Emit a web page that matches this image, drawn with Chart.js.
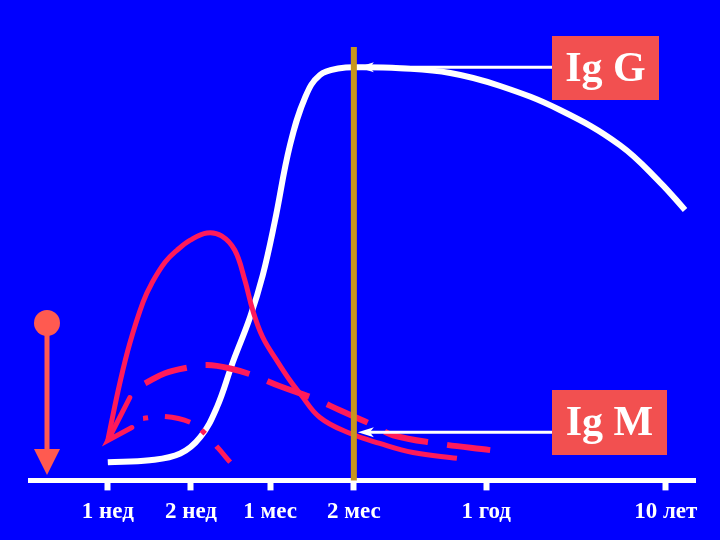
<!DOCTYPE html>
<html>
<head>
<meta charset="utf-8">
<script src="https://cdn.jsdelivr.net/npm/chart.js@4/dist/chart.umd.min.js"></script>
<style>
html,body{margin:0;padding:0;background:#0000FF;}
canvas{display:block;}
</style>
</head>
<body>
<canvas id="c" width="720" height="540"></canvas>
<script>
// Time axis (schematic, arbitrary units 0..100)
const tickLabels = ["1 нед", "2 нед", "1 мес", "2 мес", "1 год", "10 лет"];
const tickPos = [11.7, 24.2, 36.1, 48.7, 68.6, 95.6];

// IgG (white curve)
const iggX = [11.7,18.0,22.6,25.6,28.1,30.5,33.1,35.0,36.8,39.1,41.4,43.6,46.6,49.6,55.6,63.2,70.7,79.7,88.7,94.7,98.5];
const iggY = [3.8,4.2,5.6,9.0,15.2,24.6,34.0,42.7,53.8,69.8,79.8,84.4,85.8,86.0,85.8,84.8,82.1,77.1,69.8,62.1,56.3];

// IgM (solid red curve)
const igmX = [11.7,12.0,13.5,15.0,17.0,18.3,20.3,22.1,24.1,26.6,28.8,30.8,32.3,33.5,35.0,37.1,39.1,40.6,43.6,48.1,52.6,57.6,64.2];
const igmY = [8.3,10.4,20.2,28.5,37.1,41.0,45.4,47.9,50.0,51.5,50.9,47.9,41.7,35.4,29.8,25.0,20.8,18.1,13.1,9.8,7.7,5.8,4.6];

// Dashed red curve
const dashX = [17.3,20.3,23.8,26.6,30.1,33.5,37.6,42.6,46.6,51.6,54.6,61.2,69.2];
const dashY = [20.2,22.3,23.5,24.0,23.3,21.9,19.6,17.1,14.6,11.5,9.4,7.7,6.3];

// Dash-dot red curve
const ddX = [17.0,20.3,24.1,26.3,28.3,30.1];
const ddY = [12.9,13.3,12.1,9.8,6.7,3.8];

// Vertical marker at "2 мес"
const markerX = 48.7;
const markerTop = 90.2;

// Labels of the two curves and the level their arrows point at
const labelTexts = ["Ig G", "Ig M"];
const labelLevels = [86.0, 10.0];

const pts = (xs, ys) => xs.map((x, i) => ({x: x, y: ys[i]}));
const RED = "#FF1A5A";

const bgPlugin = {
  id: "bg",
  beforeDraw(chart) {
    const ctx = chart.ctx;
    ctx.save();
    ctx.fillStyle = "#0000FF";
    ctx.fillRect(0, 0, chart.width, chart.height);
    ctx.restore();
  }
};

const annoPlugin = {
  id: "anno",
  afterDraw(chart) {
    const ctx = chart.ctx;
    const xs = chart.scales.x, ys = chart.scales.y;
    ctx.save();
    // arrowhead at start of IgM curve
    const tx = xs.getPixelForValue(igmX[0]), ty = ys.getPixelForValue(igmY[0]);
    ctx.strokeStyle = RED; ctx.lineWidth = 5; ctx.lineCap = "round";
    ctx.beginPath();
    ctx.moveTo(tx + 22, ty - 43); ctx.lineTo(tx, ty); ctx.lineTo(tx + 24, ty - 13);
    ctx.stroke();

    // label boxes with arrows
    const boxes = [
      {l: 552, t: 36, w: 107, h: 64},
      {l: 552, t: 390, w: 115, h: 65}
    ];
    const gx = xs.getPixelForValue(markerX) + 4;
    labelTexts.forEach((txt, i) => {
      const b = boxes[i];
      const ay = ys.getPixelForValue(labelLevels[i]);
      ctx.strokeStyle = "#FFFFFF"; ctx.fillStyle = "#FFFFFF";
      ctx.lineWidth = 3; ctx.lineCap = "butt";
      ctx.beginPath(); ctx.moveTo(b.l, ay); ctx.lineTo(gx + 12, ay); ctx.stroke();
      ctx.beginPath();
      ctx.moveTo(gx, ay); ctx.lineTo(gx + 16, ay - 5); ctx.lineTo(gx + 12, ay); ctx.lineTo(gx + 16, ay + 5);
      ctx.closePath(); ctx.fill();
      ctx.fillStyle = "#F25050";
      ctx.fillRect(b.l, b.t, b.w, b.h);
      ctx.fillStyle = "#FFFFFF";
      ctx.font = "bold 42px 'Liberation Serif', 'DejaVu Serif', serif";
      ctx.textAlign = "center"; ctx.textBaseline = "middle";
      ctx.fillText(txt, b.l + b.w / 2, b.t + b.h / 2 + 2);
    });

    // thermometer-like symbol at left
    ctx.fillStyle = "#FF5A50"; ctx.strokeStyle = "#FF5A50";
    ctx.lineWidth = 5;
    ctx.beginPath(); ctx.moveTo(47, 323); ctx.lineTo(47, 452); ctx.stroke();
    ctx.beginPath(); ctx.arc(47, 323, 13, 0, Math.PI * 2); ctx.fill();
    ctx.beginPath(); ctx.moveTo(34, 449); ctx.lineTo(60, 449); ctx.lineTo(47, 475); ctx.closePath(); ctx.fill();
    ctx.restore();
  }
};

new Chart(document.getElementById("c"), {
  type: "line",
  data: {
    datasets: [
      {data: [{x: markerX, y: 0}, {x: markerX, y: markerTop}], borderColor: "#C8961E", borderWidth: 6, pointRadius: 0, order: 0},
      {data: pts(dashX, dashY), borderColor: RED, borderWidth: 6, borderDash: [45, 19], pointRadius: 0, tension: 0.4, order: 1},
      {data: pts(ddX, ddY), borderColor: RED, borderWidth: 5, borderDash: [5, 17, 26, 14], pointRadius: 0, tension: 0.4, order: 1},
      {data: pts(igmX, igmY), borderColor: RED, borderWidth: 5, pointRadius: 0, tension: 0.4, order: 2},
      {data: pts(iggX, iggY), borderColor: "#FFFFFF", borderWidth: 6, pointRadius: 0, tension: 0.4, order: 3}
    ]
  },
  options: {
    responsive: false,
    animation: false,
    clip: false,
    layout: {padding: {left: 30, right: 25, top: 0, bottom: 6}},
    plugins: {legend: {display: false}, tooltip: {enabled: false}},
    scales: {
      x: {
        type: "linear", min: 0, max: 100,
        afterBuildTicks(axis) { axis.ticks = tickPos.map(v => ({value: v})); },
        ticks: {
          color: "#FFFFFF", padding: 8, maxRotation: 0, autoSkip: false,
          font: {family: "'Liberation Serif', 'DejaVu Serif', serif", size: 23, weight: "bold"},
          callback(value, index) { return tickLabels[index]; }
        },
        grid: {display: true, drawOnChartArea: false, drawTicks: true, tickLength: 10, tickWidth: 6, tickColor: "#FFFFFF"},
        border: {display: true, color: "#FFFFFF", width: 5}
      },
      y: {type: "linear", min: 0, max: 100, display: false}
    }
  },
  plugins: [bgPlugin, annoPlugin]
});
</script>
</body>
</html>
